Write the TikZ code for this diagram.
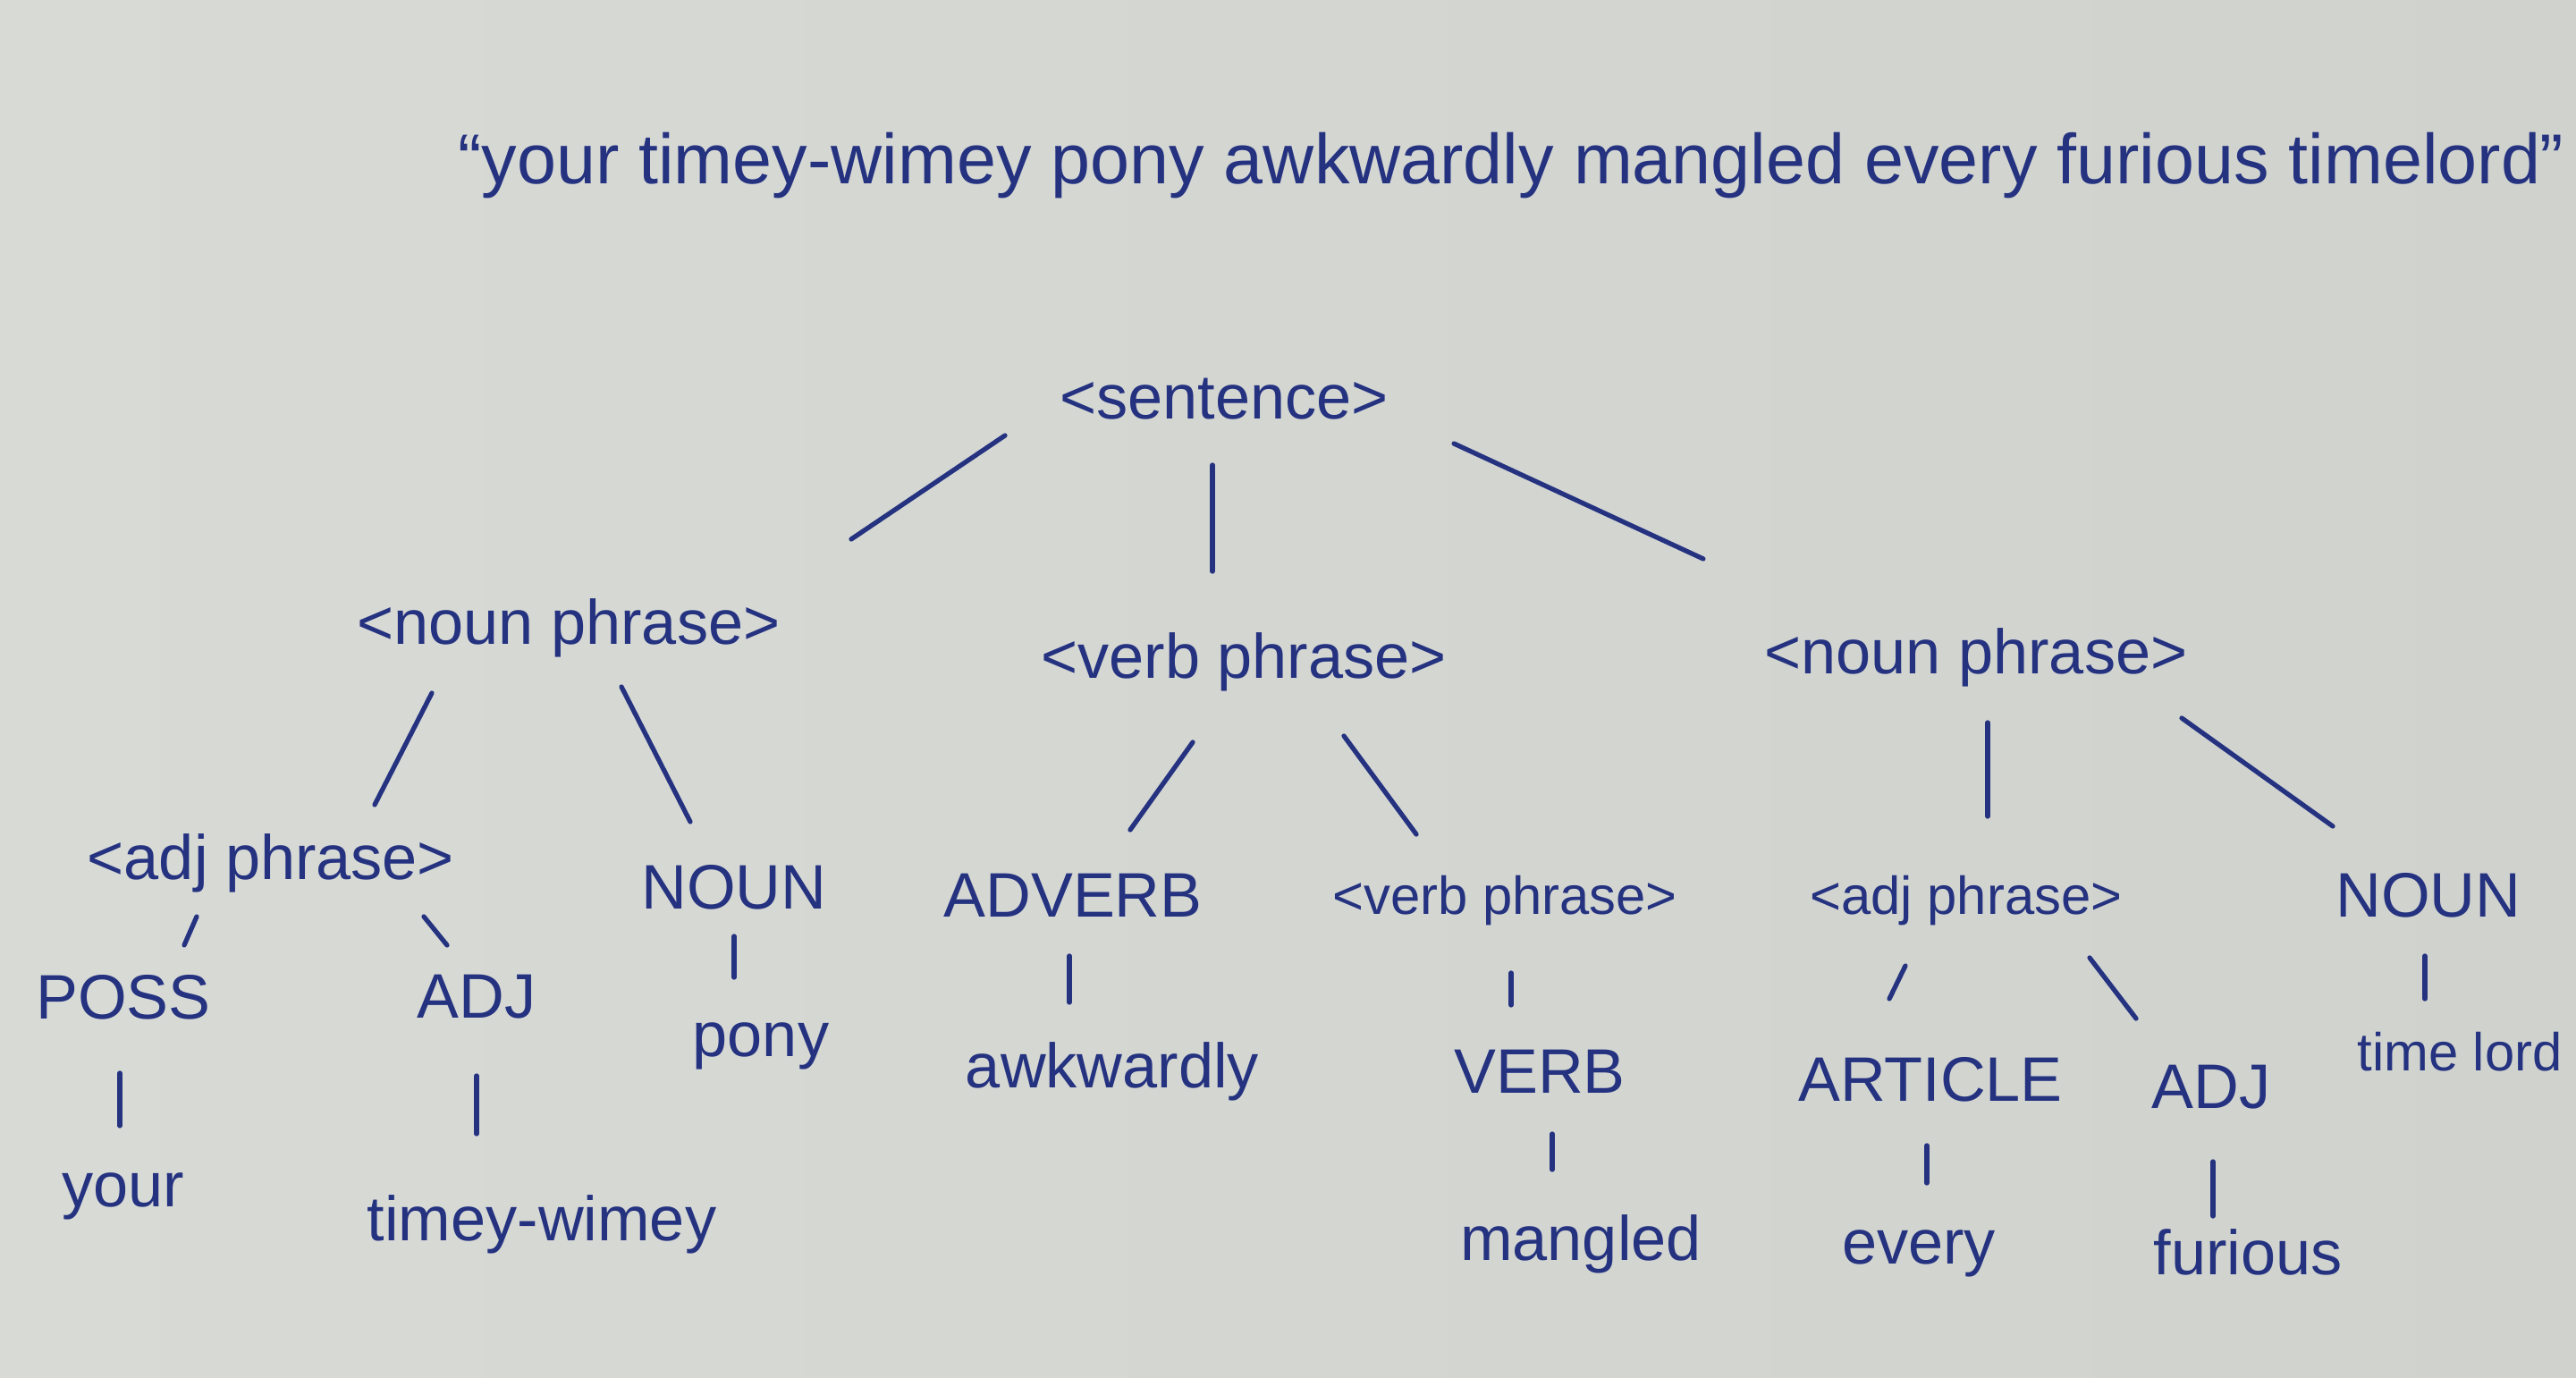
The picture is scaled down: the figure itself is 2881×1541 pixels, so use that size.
\documentclass[tikz,border=0pt]{standalone}
\usepackage{fontspec}
\setmainfont{Liberation Sans}
\usetikzlibrary{calc}
\definecolor{paper}{RGB}{208,210,206}
\definecolor{paperlight}{RGB}{216,218,214}
\definecolor{ink}{RGB}{36,50,128}
\tikzset{
  lbl/.style={text=ink, inner sep=0pt, font=\fontsize{20}{24}\selectfont},
  small/.style={font=\fontsize{17}{20}\selectfont},
  headline/.style={font=\fontsize{22.5}{27}\selectfont},
  branch/.style={draw=ink, line width=1.5pt, line cap=round}
}
% a branch from a point near node #1 to a point near node #3
\newcommand\branchline[4]{\draw[branch] ($(#1)+(#2)$) -- ($(#3)+(#4)$);}
\begin{document}
\begin{tikzpicture}[x=0.1mm,y=-0.1mm]
  % sheet of paper
  \shade[left color=paperlight, right color=paper] (0,0) rectangle (2881,1541);
  \useasboundingbox (0,0) rectangle (2881,1541);

  % the sentence being parsed
  \node[lbl,headline] (title) at (1690,185) {“your timey-wimey pony awkwardly mangled every furious timelord”};

  % tree nodes
  \node[lbl] (sent) at (1369,446) {<sentence>};
  \node[lbl] (npl) at (636,702) {<noun phrase>};
  \node[lbl] (vp) at (1391,740) {<verb phrase>};
  \node[lbl] (npr) at (2210,735) {<noun phrase>};

  \node[lbl] (adjl) at (303,965) {<adj phrase>};
  \node[lbl] (nounl) at (821,992) {NOUN};
  \node[lbl] (adv) at (1200,1001) {ADVERB};
  \node[lbl,small] (vpi) at (1683,1007) {<verb phrase>};
  \node[lbl,small] (adjr) at (2199,1007) {<adj phrase>};
  \node[lbl] (nounr) at (2716,1001) {NOUN};

  \node[lbl] (poss) at (138,1115) {POSS};
  \node[lbl] (adja) at (533,1115) {ADJ};
  \node[lbl] (pony) at (851,1170) {pony};
  \node[lbl] (awk) at (1244,1198) {awkwardly};
  \node[lbl] (verb) at (1722,1198) {VERB};
  \node[lbl] (art) at (2159,1207) {ARTICLE};
  \node[lbl] (adjb) at (2473,1216) {ADJ};
  \node[lbl,small] (tl) at (2751,1176) {time lord};

  \node[lbl] (your) at (138,1338) {your};
  \node[lbl] (tw) at (606,1369) {timey-wimey};
  \node[lbl] (mangled) at (1768,1391) {mangled};
  \node[lbl] (every) at (2146,1402) {every};
  \node[lbl] (furious) at (2514,1400) {furious};

  % branches
  \branchline{sent}{-245,41}{npl}{316,-99}
  \branchline{sent}{-13,74}{vp}{-35,-101}
  \branchline{sent}{257,50}{npr}{-305,-110}

  \branchline{npl}{-153,73}{adjl}{116,-65}
  \branchline{npl}{59,66}{nounl}{-49,-73}
  \branchline{vp}{-57,90}{adv}{64,-73}
  \branchline{vp}{112,83}{vpi}{-99,-74}
  \branchline{npr}{13,73}{adjr}{24,-94}
  \branchline{npr}{230,68}{nounr}{-107,-77}

  \branchline{adjl}{-83,60}{poss}{68,-58}
  \branchline{adjl}{171,60}{adja}{-33,-58}
  \branchline{nounl}{0,55}{pony}{-30,-77}
  \branchline{adv}{-4,68}{awk}{-48,-77}
  \branchline{vpi}{7,81}{verb}{-32,-74}
  \branchline{adjr}{-68,73}{art}{-46,-90}
  \branchline{adjr}{138,64}{adjb}{-84,-77}
  \branchline{nounr}{-4,68}{tl}{-39,-59}

  \branchline{poss}{-4,85}{your}{-4,-79}
  \branchline{adja}{0,88}{tw}{-73,-101}
  \branchline{verb}{14,70}{mangled}{-32,-83}
  \branchline{art}{-4,74}{every}{9,-79}
  \branchline{adjb}{2,83}{furious}{-39,-40}
\end{tikzpicture}
\end{document}
